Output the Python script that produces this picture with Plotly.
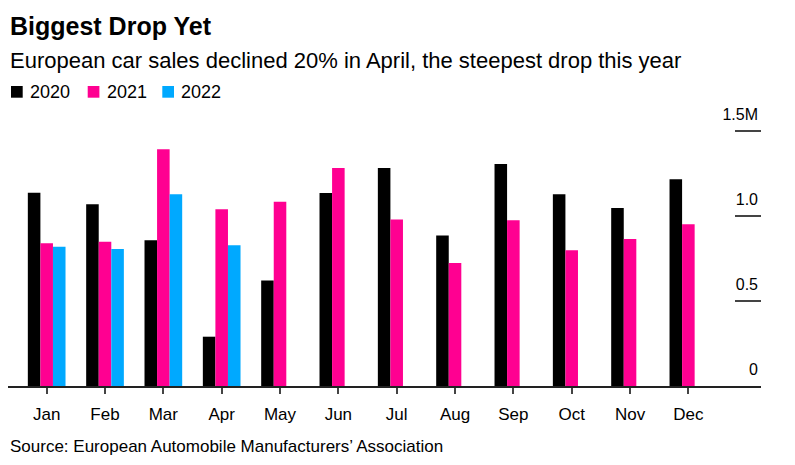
import plotly.graph_objects as go

months = ["Jan", "Feb", "Mar", "Apr", "May", "Jun", "Jul", "Aug", "Sep", "Oct", "Nov", "Dec"]
sales_2020 = [1.137, 1.069, 0.857, 0.290, 0.621, 1.135, 1.282, 0.886, 1.306, 1.128, 1.047, 1.216]
sales_2021 = [0.839, 0.849, 1.392, 1.039, 1.084, 1.282, 0.980, 0.724, 0.975, 0.798, 0.865, 0.951]
sales_2022 = [0.819, 0.806, 1.128, 0.828, None, None, None, None, None, None, None, None]

series_names = ["2020", "2021", "2022"]
series_colors = ["#000000", "#ff0091", "#00a9ff"]

y_tickvals = [0, 0.5, 1.0, 1.5]
y_ticktext = ["0", "0.5", "1.0", "1.5M"]

FONT = "Liberation Sans, Arial, sans-serif"
OFF = 8  # page body margin
W, H = 795 - OFF, 465 - OFF
L, R, T, B = 0, 34, 92, 79
ph = H - T - B
pw = W - L - R

def py(p_page):
    return (H - B - (p_page - OFF)) / ph

def px(p_page):
    return (p_page - OFF - L) / pw

fig = go.Figure()
for name, vals, col in zip(series_names, [sales_2020, sales_2021, sales_2022], series_colors):
    fig.add_trace(go.Bar(x=months, y=vals, name=name, showlegend=False,
                         marker=dict(color=col, line=dict(width=0))))

fig.update_layout(
    width=W, height=H,
    margin=dict(l=L, r=R, t=T, b=B, autoexpand=False),
    paper_bgcolor="white", plot_bgcolor="white",
    barmode="group", bargap=0.354, bargroupgap=0,
    font=dict(family=FONT, color="#000000"),
    showlegend=False,
    xaxis=dict(range=[-0.663, 12.245], showgrid=False, zeroline=False, automargin=False,
               showline=True, linecolor="#222222", linewidth=1.5,
               ticks="outside", ticklen=6, tickcolor="#444444", tickwidth=1.5,
               tickfont=dict(size=17, family=FONT, color="#000000"),
               ticklabelstandoff=6),
    yaxis=dict(range=[0, (H - B - T) / 170], side="right", showgrid=False, zeroline=False,
               showline=False, tickvals=y_tickvals, ticktext=y_ticktext, automargin=False,
               ticks="inside", ticklen=26, tickcolor="#444444", tickwidth=1.5,
               ticklabelposition="inside top", ticklabelshift=-5,
               tickfont=dict(size=16, family=FONT, color="#000000")),
)

# legend (key squares + labels)
legend_x = [11, 87.7, 162.3]
for lx, name, col in zip(legend_x, series_names, series_colors):
    fig.add_shape(type="rect", xref="paper", yref="paper",
                  x0=px(lx), x1=px(lx + 11.7), y0=py(97.7), y1=py(86),
                  fillcolor=col, line=dict(width=0))
    fig.add_annotation(text=name, xref="paper", yref="paper",
                       x=px(lx + 17), xanchor="left", y=py(92), yanchor="middle",
                       showarrow=False, font=dict(size=18, family=FONT, color="#000000"))

fig.add_annotation(text="<b>Biggest Drop Yet</b>", xref="paper", yref="paper",
                   x=0.0, xanchor="left", y=py(26.5), yanchor="middle",
                   showarrow=False, font=dict(size=25, family=FONT, color="#000000"))
fig.add_annotation(text="European car sales declined 20% in April, the steepest drop this year",
                   xref="paper", yref="paper", x=0.0, xanchor="left", y=py(60), yanchor="middle",
                   showarrow=False, font=dict(size=22, family=FONT, color="#000000"))
fig.add_annotation(text="Source: European Automobile Manufacturers\u2019 Association",
                   xref="paper", yref="paper", x=0.0, xanchor="left", y=py(446), yanchor="middle",
                   showarrow=False, font=dict(size=17, family=FONT, color="#000000"))

fig.write_html("out.html")
